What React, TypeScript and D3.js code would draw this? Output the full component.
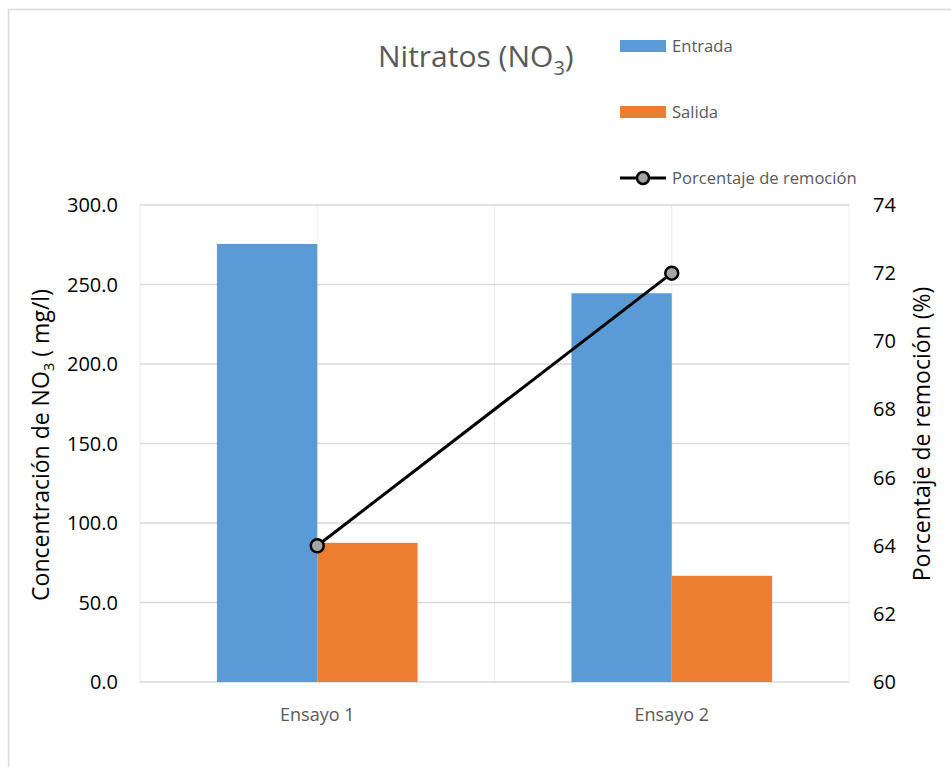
import * as d3 from 'd3';

const categories = ['Ensayo 1', 'Ensayo 2'];
const entrada = [275.5, 244.5];
const salida = [87.5, 66.8];
const remocion = [64.0, 72.0];
const leftTicks = [0, 50, 100, 150, 200, 250, 300];
const rightTicks = [60, 62, 64, 66, 68, 70, 72, 74];

const W = 951;
const H = 767;
const FONT = '"Open Sans", "Noto Sans", sans-serif';

export default function App() {
  const left = 140;
  const right = 849;
  const top = 205;
  const bottom = 682;

  const x = d3.scaleBand().domain(categories).range([left, right]);
  const barW = x.bandwidth() * 0.283;
  const y = d3.scaleLinear().domain([0, 300]).range([bottom, top]);
  const y2 = d3.scaleLinear().domain([60, 74]).range([bottom, top]);
  const cx = (c: string) => (x(c) ?? 0) + x.bandwidth() / 2;

  const line = d3
    .line<number>()
    .x((_, i) => cx(categories[i]))
    .y((d) => y2(d));

  // vertical gridlines: band edges and category centres
  const vLines = [left, ...categories.map(cx), ...categories.map((c) => (x(c) ?? 0) + x.bandwidth())];

  return (
    <svg
      width={W}
      height={H}
      style={{ position: 'absolute', left: 0, top: 0, background: '#fff' }}
      fontFamily={FONT}
    >
      {/* chart frame */}
      <path d={`M8.5,${H} V9.5 H${W}`} fill="none" stroke="#d9d9d9" strokeWidth={1.5} />

      {/* gridlines */}
      {vLines.map((v, i) => (
        <line key={'v' + i} x1={v} x2={v} y1={top} y2={bottom} stroke="#ececec" strokeWidth={1} />
      ))}
      {leftTicks.map((t) => (
        <line key={'h' + t} x1={left} x2={right} y1={y(t)} y2={y(t)} stroke="#d9d9d9" strokeWidth={1.5} />
      ))}

      {/* bars */}
      {categories.map((c, i) => (
        <g key={c}>
          <rect x={cx(c) - barW} y={y(entrada[i])} width={barW} height={y(0) - y(entrada[i])} fill="#5b9bd5" />
          <rect x={cx(c)} y={y(salida[i])} width={barW} height={y(0) - y(salida[i])} fill="#ed7d31" />
        </g>
      ))}

      {/* line series */}
      <path d={line(remocion) ?? ''} fill="none" stroke="#000" strokeWidth={3} />
      {remocion.map((d, i) => (
        <circle key={i} cx={cx(categories[i])} cy={y2(d)} r={6.5} fill="#a5a5a5" stroke="#000" strokeWidth={2.5} />
      ))}

      {/* left axis ticks */}
      {leftTicks.map((t) => (
        <text key={'l' + t} x={118} y={y(t)} dy="0.35em" textAnchor="end" fontSize={20} fill="#000">
          {t.toFixed(1)}
        </text>
      ))}
      {/* right axis ticks */}
      {rightTicks.map((t) => (
        <text key={'r' + t} x={873} y={y2(t)} dy="0.35em" textAnchor="start" fontSize={20} fill="#000">
          {t}
        </text>
      ))}

      {/* category labels */}
      {categories.map((c) => (
        <text key={'c' + c} x={cx(c)} y={721} textAnchor="middle" fontSize={18} fill="#595959">
          {c}
        </text>
      ))}

      {/* axis titles */}
      <text transform={`translate(49,445) rotate(-90)`} textAnchor="middle" fontSize={23} fill="#000">
        Concentración de NO<tspan fontSize={15} dy={5}>3</tspan>
        <tspan dy={-5}> ( mg/l)</tspan>
      </text>
      <text transform={`translate(930,434) rotate(-90)`} textAnchor="middle" fontSize={23} fill="#000">
        Porcentaje de remoción (%)
      </text>

      {/* title */}
      <text x={378} y={67} fontSize={30} fill="#595959">
        Nitratos (NO<tspan fontSize={20} dy={8}>3</tspan>
        <tspan dy={-8}>)</tspan>
      </text>

      {/* legend */}
      <rect x={620} y={40} width={46} height={12} fill="#5b9bd5" />
      <text x={672} y={46} dy="0.35em" fontSize={16.6} fill="#595959">Entrada</text>
      <rect x={620} y={106} width={46} height={12} fill="#ed7d31" />
      <text x={672} y={112} dy="0.35em" fontSize={16.6} fill="#595959">Salida</text>
      <line x1={620} x2={666} y1={178} y2={178} stroke="#000" strokeWidth={3} />
      <circle cx={643} cy={178} r={6} fill="#a5a5a5" stroke="#000" strokeWidth={2.5} />
      <text x={672} y={178} dy="0.35em" fontSize={16.6} fill="#595959">Porcentaje de remoción</text>
    </svg>
  );
}
